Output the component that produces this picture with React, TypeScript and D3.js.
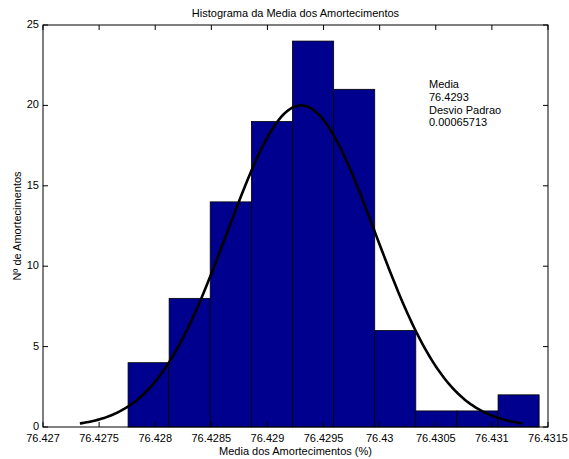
import React from "react";
import * as d3 from "d3";

const binEdges = [76.427758, 76.428124, 76.42849, 76.428857, 76.429223, 76.42959, 76.429956, 76.430322, 76.430689, 76.431055, 76.431421];
const counts = [4, 8, 14, 19, 24, 21, 6, 1, 1, 2];
const mean = 76.4293;
const stdDev = 0.00065713;
const curvePeak = 20;
const xTicks = [76.427, 76.4275, 76.428, 76.4285, 76.429, 76.4295, 76.43, 76.4305, 76.431, 76.4315];
const xTickLabels = ["76.427", "76.4275", "76.428", "76.4285", "76.429", "76.4295", "76.43", "76.4305", "76.431", "76.4315"];
const yTicks = [0, 5, 10, 15, 20, 25];
const annotation = ["Media", "76.4293", "Desvio Padrao", "0.00065713"];

const W = 569, H = 459;
const L = 43, R = 548, T = 25, B = 427;
const font = "'Liberation Sans', Arial, sans-serif";

export default function App() {
  const x = d3.scaleLinear().domain([76.427, 76.4315]).range([L, R]);
  const y = d3.scaleLinear().domain([0, 25]).range([B, T]);
  const curvePts = d3.range(0, 201).map((i) => {
    const v = mean - 3 * stdDev + (6 * stdDev * i) / 200;
    const z = (v - mean) / stdDev;
    return [v, curvePeak * Math.exp(-0.5 * z * z)] as [number, number];
  });
  const line = d3.line<[number, number]>().x((d) => x(d[0])).y((d) => y(d[1]));
  return (
    <svg width={W} height={H} style={{ position: "absolute", left: 0, top: 0, background: "#fff" }} fontFamily={font}>
      <rect x={0} y={0} width={W} height={H} fill="#fff" />
      {counts.map((c, i) => (
        <rect key={i} x={x(binEdges[i])} y={y(c)} width={x(binEdges[i + 1]) - x(binEdges[i])} height={y(0) - y(c)}
          fill="#00008f" stroke="#000" strokeWidth={0.8} />
      ))}
      <path d={line(curvePts) || ""} fill="none" stroke="#000" strokeWidth={2.6} />
      <rect x={L} y={T} width={R - L} height={B - T} fill="none" stroke="#000" strokeWidth={1} />
      {xTicks.map((t, i) => (
        <g key={i}>
          <line x1={x(t)} x2={x(t)} y1={B} y2={B - 5} stroke="#000" />
          <line x1={x(t)} x2={x(t)} y1={T} y2={T + 5} stroke="#000" />
          <text x={x(t)} y={442} fontSize={11} textAnchor="middle">{xTickLabels[i]}</text>
        </g>
      ))}
      {yTicks.map((t) => (
        <g key={t}>
          <line x1={L} x2={L + 5} y1={y(t)} y2={y(t)} stroke="#000" />
          <line x1={R} x2={R - 5} y1={y(t)} y2={y(t)} stroke="#000" />
          <text x={L - 4} y={y(t) + 3} fontSize={11} textAnchor="end">{t}</text>
        </g>
      ))}
      <text x={(L + R) / 2} y={17} fontSize={11} textAnchor="middle">Histograma da Media dos Amortecimentos</text>
      <text x={(L + R) / 2} y={455} fontSize={11} textAnchor="middle">Media dos Amortecimentos (%)</text>
      <text transform={`translate(21,${(T + B) / 2}) rotate(-90)`} fontSize={11} textAnchor="middle">Nº de Amortecimentos</text>
      {annotation.map((s, i) => (
        <text key={i} x={429} y={88 + i * 12.8} fontSize={11}>{s}</text>
      ))}
    </svg>
  );
}
